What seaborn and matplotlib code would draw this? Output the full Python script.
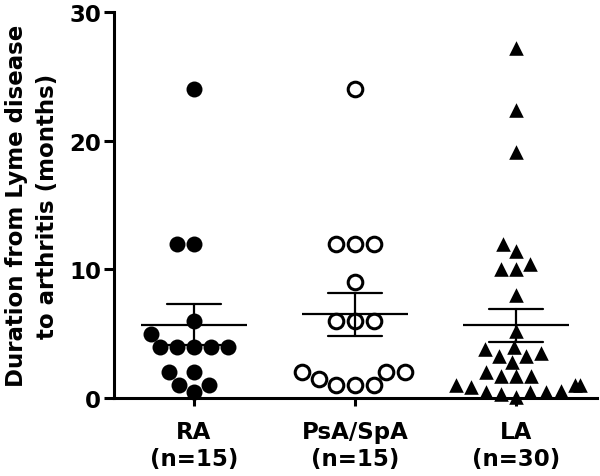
import matplotlib
matplotlib.use("Agg")
import matplotlib.pyplot as plt
import seaborn as sns
import pandas as pd

groups = ["RA", "PsA/SpA", "LA"]
tick_labels = ["RA\n(n=15)", "PsA/SpA\n(n=15)", "LA\n(n=30)"]
ra_values = [24, 12, 12, 6, 5, 4, 4, 4, 4, 4, 2, 2, 1, 1, 0.5]
psa_values = [24, 12, 12, 12, 9, 6, 6, 6, 2, 2, 2, 1.5, 1, 1, 1]
la_values = [27.2, 22.4, 19.1, 12, 11.4, 10.4, 10, 10, 8,
             5.2, 4, 3.8, 3.5, 3.3, 3.3, 2.8, 2,
             1.7, 1.7, 1.7, 1, 1, 1, 0.85, 0.55, 0.5, 0.5, 0.5, 0.3, 0.1]
y_ticks = [0, 10, 20, 30]
y_label = "Duration from Lyme disease\nto arthritis (months)"

df = pd.DataFrame({
    "group": ["RA"] * len(ra_values) + ["PsA/SpA"] * len(psa_values) + ["LA"] * len(la_values),
    "value": ra_values + psa_values + la_values,
})

sns.set_style("ticks")
plt.rcParams["font.family"] = ["DejaVu Sans"]
plt.rcParams["font.weight"] = "bold"
plt.rcParams["text.color"] = "black"
plt.rcParams["axes.labelcolor"] = "black"
plt.rcParams["xtick.color"] = "black"
plt.rcParams["ytick.color"] = "black"

fig = plt.figure(figsize=(6.0, 4.77), dpi=100)
ax = fig.add_axes([113.5 / 600, 78 / 477, 483 / 600, 386 / 477])

# RA: filled circles
sns.swarmplot(data=df[df.group == "RA"], x="group", y="value", order=groups,
              color="black", size=11.5, linewidth=0, marker="o", ax=ax)
# PsA/SpA: open circles
sns.swarmplot(data=df[df.group == "PsA/SpA"], x="group", y="value", order=groups,
              color="white", edgecolor="black", linewidth=2.2, size=10.5,
              marker="o", ax=ax)
# LA: filled triangles
sns.swarmplot(data=df[df.group == "LA"], x="group", y="value", order=groups,
              color="black", size=10.5, linewidth=0, marker="^", ax=ax)

for coll in ax.collections:
    coll.set_clip_on(False)

# Mean +/- SEM
sns.pointplot(data=df, x="group", y="value", order=groups, errorbar="se",
              capsize=0.34, color="black", marker="_", markersize=76,
              markeredgewidth=1.6, linestyle="none",
              err_kws={"linewidth": 1.6}, ax=ax, zorder=4)

ax.set_xlim(-0.5, 2.5)
ax.set_ylim(0, 30)
ax.set_yticks(y_ticks)
ax.set_xticks(range(len(groups)))
ax.set_xticklabels(tick_labels, fontsize=16.5, fontweight="bold",
                   linespacing=1.2, color="black")
ax.tick_params(axis="y", labelsize=16.5, length=7, width=2.2, pad=2,
               direction="out", colors="black")
ax.tick_params(axis="x", length=6, width=2.2, pad=10, direction="out",
               colors="black")
for lab in ax.get_yticklabels():
    lab.set_fontweight("bold")

ax.set_xlabel("")
ax.set_ylabel(y_label, fontsize=16.5, fontweight="bold", linespacing=1.45,
              color="black")
ax.yaxis.set_label_coords(-0.112, 0.5)

sns.despine(ax=ax)
for side in ["left", "bottom"]:
    ax.spines[side].set_linewidth(2.2)
    ax.spines[side].set_color("black")

fig.savefig("out.png", dpi=100)
